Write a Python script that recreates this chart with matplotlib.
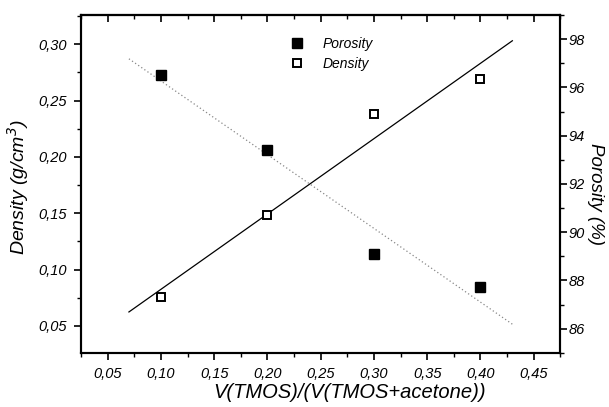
import numpy as np
import matplotlib
matplotlib.use("Agg")
import matplotlib.pyplot as plt
from matplotlib.ticker import MultipleLocator, FuncFormatter

plt.rcParams['font.family'] = ['Liberation Sans', 'DejaVu Sans']
plt.rcParams['font.style'] = 'italic'

# data
ratio = [0.10, 0.20, 0.30, 0.40]
density = [0.076, 0.148, 0.238, 0.269]
porosity = [96.5, 93.4, 89.1, 87.75]
fit_range = [0.07, 0.43]

comma = FuncFormatter(lambda v, p: f"{v:.2f}".replace('.', ','))

fig = plt.figure(figsize=(6.09, 4.07), dpi=100)
ax = fig.add_axes([0.133, 0.133, 0.787, 0.830])
ax2 = ax.twinx()

# linear fits
xf = np.array(fit_range)
kd = np.polyfit(ratio, density, 1)
kp = np.polyfit(ratio, porosity, 1)
ax.plot(xf, np.polyval(kd, xf), color='black', lw=0.9)
ax2.plot(xf, np.polyval(kp, xf), color='#888888', lw=0.9, ls=(0, (1, 2)))

ax.plot(ratio, density, ls='none', marker='s', ms=6, mfc='white',
        mec='black', mew=1.4, label='Density')
ax2.plot(ratio, porosity, ls='none', marker='s', ms=6.5, color='black',
         label='Porosity')

ax.set_xlim(0.025, 0.475)
ax.set_ylim(0.026, 0.326)
ax2.set_ylim(85, 99)

ax.xaxis.set_major_locator(MultipleLocator(0.05))
ax.xaxis.set_minor_locator(MultipleLocator(0.025))
ax.yaxis.set_major_locator(MultipleLocator(0.05))
ax.yaxis.set_minor_locator(MultipleLocator(0.025))
ax2.yaxis.set_major_locator(MultipleLocator(2))
ax2.yaxis.set_minor_locator(MultipleLocator(1))
ax.xaxis.set_major_formatter(comma)
ax.yaxis.set_major_formatter(comma)

for a in (ax, ax2):
    a.tick_params(which='major', direction='out', length=5, width=1.2,
                  labelsize=10.5, pad=5)
    a.tick_params(which='minor', direction='out', length=3, width=1)
    for s in a.spines.values():
        s.set_linewidth(1.5)
ax2.tick_params(which='major', pad=1)

top = ax.secondary_xaxis('top')
top.xaxis.set_major_locator(MultipleLocator(0.05))
top.xaxis.set_minor_locator(MultipleLocator(0.025))
top.tick_params(which='major', direction='in', length=5, width=1.2, labeltop=False)
top.tick_params(which='minor', direction='in', length=3, width=1)
top.spines['top'].set_linewidth(1.5)

ax.set_xlabel('V(TMOS)/(V(TMOS+acetone))', fontsize=14.5, va='center')
ax.xaxis.set_label_coords(0.56, -0.116)
ax.set_ylabel('Density (g/cm$^3$)', fontsize=14, va='center')
ax.yaxis.set_label_coords(-0.131, 0.49)
ax2.set_ylabel('Porosity (%)', fontsize=13.5, rotation=270, va='center')
ax2.yaxis.set_label_coords(1.073, 0.47)

h1, l1 = ax2.get_legend_handles_labels()
h0, l0 = ax.get_legend_handles_labels()
ax2.legend(h1 + h0, l1 + l0, loc='upper center', bbox_to_anchor=(0.515, 0.972),
           frameon=False, fontsize=10, handletextpad=0.8, labelspacing=0.45,
           bbox_transform=ax.transAxes)

fig.savefig('out.png', dpi=100)
